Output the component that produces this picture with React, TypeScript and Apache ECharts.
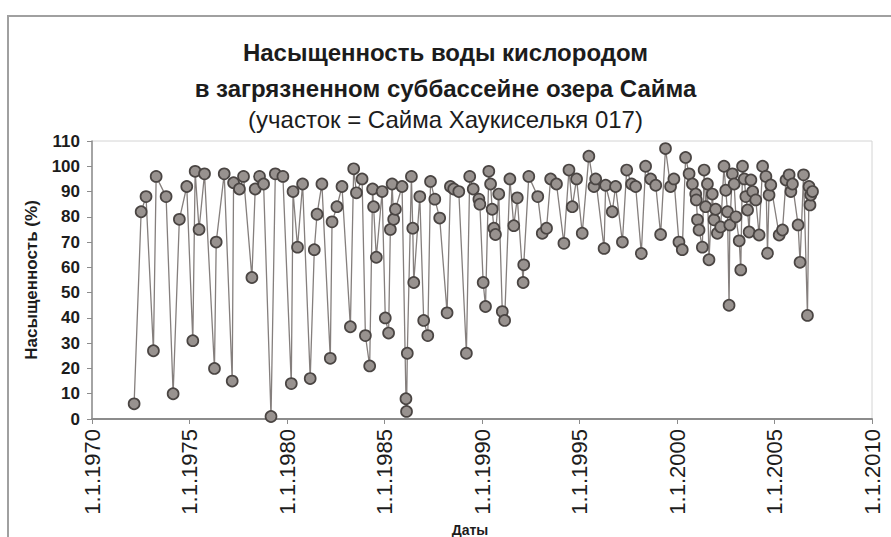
import React, { useEffect, useRef } from "react";
import * as echarts from "echarts";

const titleLine1 = "Насыщенность воды кислородом";
const titleLine2 = "в загрязненном суббассейне озера Сайма";
const titleLine3 = "(участок = Сайма Хаукиселькя 017)";
const yAxisName = "Насыщенность (%)";
const xAxisName = "Даты";

// sample dates (decimal years) and oxygen saturation values (%)
const dates: number[] = [
  1972.16, 1972.52, 1972.77, 1973.15, 1973.29, 1973.8, 1974.16, 1974.48, 1974.86, 1975.17,
  1975.29, 1975.49, 1975.77, 1976.28, 1976.37, 1976.78, 1977.19, 1977.26, 1977.56, 1977.77,
  1978.2, 1978.37, 1978.59, 1978.8, 1979.18, 1979.4, 1979.79, 1980.22, 1980.31, 1980.54,
  1980.8, 1981.19, 1981.4, 1981.54, 1981.79, 1982.22, 1982.31, 1982.56, 1982.82, 1983.25,
  1983.42, 1983.56, 1983.85, 1984.02, 1984.24, 1984.39, 1984.44, 1984.58, 1984.88, 1985.04,
  1985.21, 1985.3, 1985.39, 1985.47, 1985.56, 1985.9, 1986.1, 1986.13, 1986.17, 1986.38,
  1986.45, 1986.5, 1986.81, 1987.01, 1987.22, 1987.36, 1987.58, 1987.83, 1988.21, 1988.38,
  1988.55, 1988.81, 1989.2, 1989.37, 1989.55, 1989.84, 1989.89, 1990.06, 1990.18, 1990.35,
  1990.44, 1990.52, 1990.61, 1990.69, 1990.86, 1991.04, 1991.16, 1991.43, 1991.63, 1991.81,
  1992.11, 1992.14, 1992.4, 1992.86, 1993.09, 1993.31, 1993.52, 1993.82, 1994.2, 1994.46,
  1994.63, 1994.85, 1995.14, 1995.48, 1995.74, 1995.83, 1996.26, 1996.34, 1996.68, 1996.85,
  1997.2, 1997.42, 1997.67, 1997.88, 1998.17, 1998.39, 1998.65, 1998.91, 1999.16, 1999.41,
  1999.67, 1999.84, 2000.1, 2000.27, 2000.44, 2000.62, 2000.79, 2000.96, 2000.99, 2001.05,
  2001.13, 2001.3, 2001.39, 2001.47, 2001.56, 2001.64, 2001.81, 2001.9, 2001.98, 2002.07,
  2002.24, 2002.41, 2002.5, 2002.59, 2002.67, 2002.71, 2002.84, 2002.93, 2003.02, 2003.19,
  2003.27, 2003.36, 2003.45, 2003.53, 2003.62, 2003.7, 2003.79, 2003.88, 2004.04, 2004.21,
  2004.39, 2004.56, 2004.64, 2004.72, 2004.81, 2005.24, 2005.41, 2005.59, 2005.75, 2005.84,
  2005.92, 2006.21, 2006.31, 2006.49, 2006.69, 2006.77, 2006.82, 2006.86, 2006.95,
];

const saturation: number[] = [
  6, 82, 88, 27, 96, 88, 10, 79, 92, 31,
  98, 75, 97, 20, 70, 97, 15, 93.5, 91, 96,
  56, 91, 96, 93, 1, 97, 96, 14, 90, 68,
  93, 16, 67, 81, 93, 24, 78, 84, 92, 36.5,
  99, 89.5, 95, 33, 21, 91, 84, 64, 90, 40,
  34, 75, 93, 79, 83, 92, 8, 3, 26, 96,
  75.5, 54, 88, 39, 33, 94, 87, 79.5, 42, 92,
  91, 90, 26, 96, 91, 87, 85, 54, 44.5, 98,
  93, 83, 75.5, 73, 89, 42.5, 39, 95, 76.5, 87.5,
  54, 61, 96, 88, 73.5, 75.5, 95, 93, 69.5, 98.5,
  84, 95, 73.5, 104, 92, 95, 67.5, 92.5, 82, 92,
  70, 98.5, 93, 92, 65.5, 100, 95, 92.5, 73, 107,
  92, 95, 70, 67, 103.5, 97, 93, 89, 86.7, 78.8,
  74.8, 68, 98.5, 84, 93, 63, 89, 78.8, 83, 73.5,
  76, 100, 90.5, 82, 45, 76.8, 97, 93, 80, 70.5,
  59, 100, 95, 88, 82.7, 74, 94.6, 90, 86.7, 72.8,
  100, 96, 65.6, 88.6, 92.6, 72.8, 74.8, 94.6, 96.6, 90,
  93, 76.8, 62, 96.6, 41, 92, 84.7, 88.6, 90,
];

const yTicks = { min: 0, max: 110, interval: 10 };
const xTicks = { min: 1970, max: 2010, interval: 5 };

export default function App() {
  const ref = useRef<HTMLDivElement>(null);

  useEffect(() => {
    if (!ref.current) return;
    const chart = echarts.init(ref.current, undefined, { renderer: "svg" });
    const font = "'Liberation Sans', Arial, sans-serif";
    const seriesData = dates.map((d, i) => [d, saturation[i]]);

    chart.setOption({
      animation: false,
      backgroundColor: "#ffffff",
      textStyle: { fontFamily: font },
      graphic: [
        {
          type: "rect",
          shape: { x: 8, y: 16, width: 1000, height: 1000 },
          style: { fill: "none", stroke: "#a0a0a0", lineWidth: 2 },
          silent: true,
          z: -1,
        },
      ],
      title: [
        {
          text: titleLine1,
          left: "center",
          top: 35,
          textStyle: { fontFamily: font, fontSize: 24, fontWeight: "bold", color: "#1c1c1c" },
        },
        {
          text: titleLine2,
          left: "center",
          top: 71,
          textStyle: { fontFamily: font, fontSize: 24, fontWeight: "bold", color: "#1c1c1c" },
        },
        {
          text: titleLine3,
          left: "center",
          top: 102,
          textStyle: { fontFamily: font, fontSize: 24, fontWeight: "normal", color: "#1c1c1c" },
        },
      ],
      grid: {
        left: 92,
        right: 19,
        top: 141,
        bottom: 118,
        containLabel: false,
        outerBoundsMode: "none",
        show: true,
        borderColor: "#d4d4d4",
        borderWidth: 1,
        backgroundColor: "transparent",
      },
      xAxis: {
        type: "value",
        min: xTicks.min,
        max: xTicks.max,
        interval: xTicks.interval,
        name: xAxisName,
        nameLocation: "middle",
        nameGap: 102,
        nameTextStyle: {
          fontFamily: font,
          fontSize: 14,
          fontWeight: "bold",
          color: "#1c1c1c",
          padding: [0, 24, 0, 0],
        },
        axisLine: { show: true, lineStyle: { color: "#8c8c8c", width: 2 } },
        axisTick: { show: true, length: 5, lineStyle: { color: "#8c8c8c" } },
        splitLine: { show: false },
        axisLabel: {
          rotate: 90,
          margin: 10,
          fontSize: 22,
          color: "#1c1c1c",
          fontFamily: font,
          formatter: (v: number) => "1.1." + v,
        },
      },
      yAxis: {
        type: "value",
        min: yTicks.min,
        max: yTicks.max,
        interval: yTicks.interval,
        name: yAxisName,
        nameLocation: "middle",
        nameGap: 52,
        nameTextStyle: { fontFamily: font, fontSize: 17, fontWeight: "bold", color: "#1c1c1c" },
        axisLine: { show: true, lineStyle: { color: "#8c8c8c", width: 1.5 } },
        axisTick: { show: true, length: 5, lineStyle: { color: "#8c8c8c" } },
        splitLine: { show: false },
        axisLabel: {
          margin: 12,
          fontSize: 17,
          fontWeight: "bold",
          color: "#1c1c1c",
          fontFamily: font,
        },
      },
      series: [
        {
          type: "line",
          data: seriesData,
          symbol: "circle",
          symbolSize: 11,
          showSymbol: true,
          lineStyle: { color: "#857f7d", width: 1.3 },
          itemStyle: { color: "#98928f", borderColor: "#4a4543", borderWidth: 1.7 },
          clip: false,
        },
      ],
    });

    return () => chart.dispose();
  }, []);

  return (
    <div
      ref={ref}
      style={{ position: "fixed", left: 0, top: 0, width: 891, height: 537, background: "#fff" }}
    />
  );
}
